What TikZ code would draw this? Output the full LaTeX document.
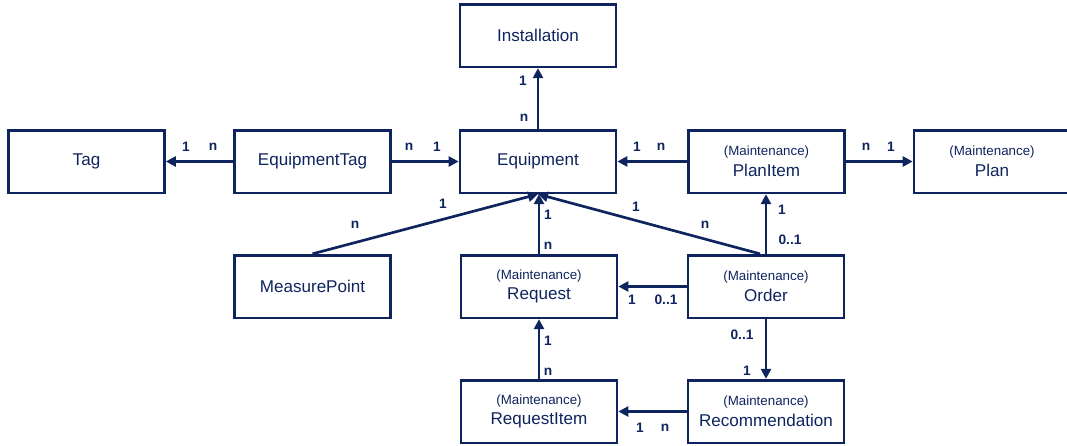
\documentclass[tikz,border=0pt]{standalone}
\usepackage{fontspec}
\setmainfont{Liberation Sans}
\usetikzlibrary{arrows.meta}
\definecolor{navy}{RGB}{14,36,94}
\tikzset{
  box/.style={draw=navy, line width=2pt, minimum width=117pt, minimum height=47pt, inner sep=0pt, align=center, text=navy, font=\fontsize{12.8}{15.5}\selectfont},
  conn/.style={draw=navy, line width=2pt, -{Triangle[length=7.5pt,width=7.5pt]}},
  card/.style={text=navy, inner sep=0pt, font=\bfseries\fontsize{10.3}{12}\selectfont},
}
\newcommand{\mnt}{{\fontsize{10}{11}\selectfont (Maintenance)}}
\begin{document}
\begin{tikzpicture}[x=0.75pt,y=-0.75pt]
\useasboundingbox (0,0) rectangle (1067,446);
\node[box] (inst) at (538,35.5) {Installation};
\node[box] (tag) at (86.5,161.5) {Tag};
\node[box] (etag) at (312.5,161.5) {EquipmentTag};
\node[box] (eq) at (538,161.5) {Equipment};
\node[box] (pitem) at (766.5,161.5) {\mnt\\PlanItem};
\node[box] (plan) at (992,161.5) {\mnt\\Plan};
\node[box] (mp) at (312.5,286.5) {MeasurePoint};
\node[box] (req) at (539,286.5) {\mnt\\Request};
\node[box] (ord) at (766,286.5) {\mnt\\Order};
\node[box] (ritem) at (539,411.5) {\mnt\\RequestItem};
\node[box] (rec) at (766,411.5) {\mnt\\Recommendation};

\draw[conn] (eq.north) -- (inst.south);
\draw[conn] (etag.west) -- (tag.east);
\draw[conn] (etag.east) -- (eq.west);
\draw[conn] (pitem.west) -- (eq.east);
\draw[conn] (pitem.east) -- (plan.west);
\draw[conn] (mp.north) -- (eq.south);
\draw[conn] (req.north) -- (req.north |- eq.south);
\draw[conn] ([xshift=-4.5pt]ord.north) -- (eq.south);
\draw[conn] (ord.north) -- (ord.north |- pitem.south);
\draw[conn] (ord.west) -- (req.east);
\draw[conn] (ord.south) -- (ord.south |- rec.north);
\draw[conn] (rec.west) -- (ritem.east);
\draw[conn] (ritem.north) -- (req.south);

\node[card] (c1) at (186,147) {1};
\node[card] (c2) at (213,147) {n};
\node[card] (c3) at (409,147) {n};
\node[card] (c4) at (437,147) {1};
\node[card] (c5) at (523,81) {1};
\node[card] (c6) at (524,118) {n};
\node[card] (c7) at (637,147) {1};
\node[card] (c8) at (661,147) {n};
\node[card] (c9) at (866,147) {n};
\node[card] (c10) at (891,147) {1};
\node[card] (c11) at (355,225) {n};
\node[card] (c12) at (443,204) {1};
\node[card] (c13) at (548,215) {1};
\node[card] (c14) at (548,246) {n};
\node[card] (c15) at (636,207) {1};
\node[card] (c16) at (705,225) {n};
\node[card] (c17) at (782,210) {1};
\node[card] (c18) at (790,240) {0..1};
\node[card] (c19) at (632,300) {1};
\node[card] (c20) at (666,300) {0..1};
\node[card] (c21) at (742,335) {0..1};
\node[card] (c22) at (747,371) {1};
\node[card] (c23) at (548,341) {1};
\node[card] (c24) at (548,372) {n};
\node[card] (c25) at (640,428) {1};
\node[card] (c26) at (665,428) {n};
\end{tikzpicture}
\end{document}
